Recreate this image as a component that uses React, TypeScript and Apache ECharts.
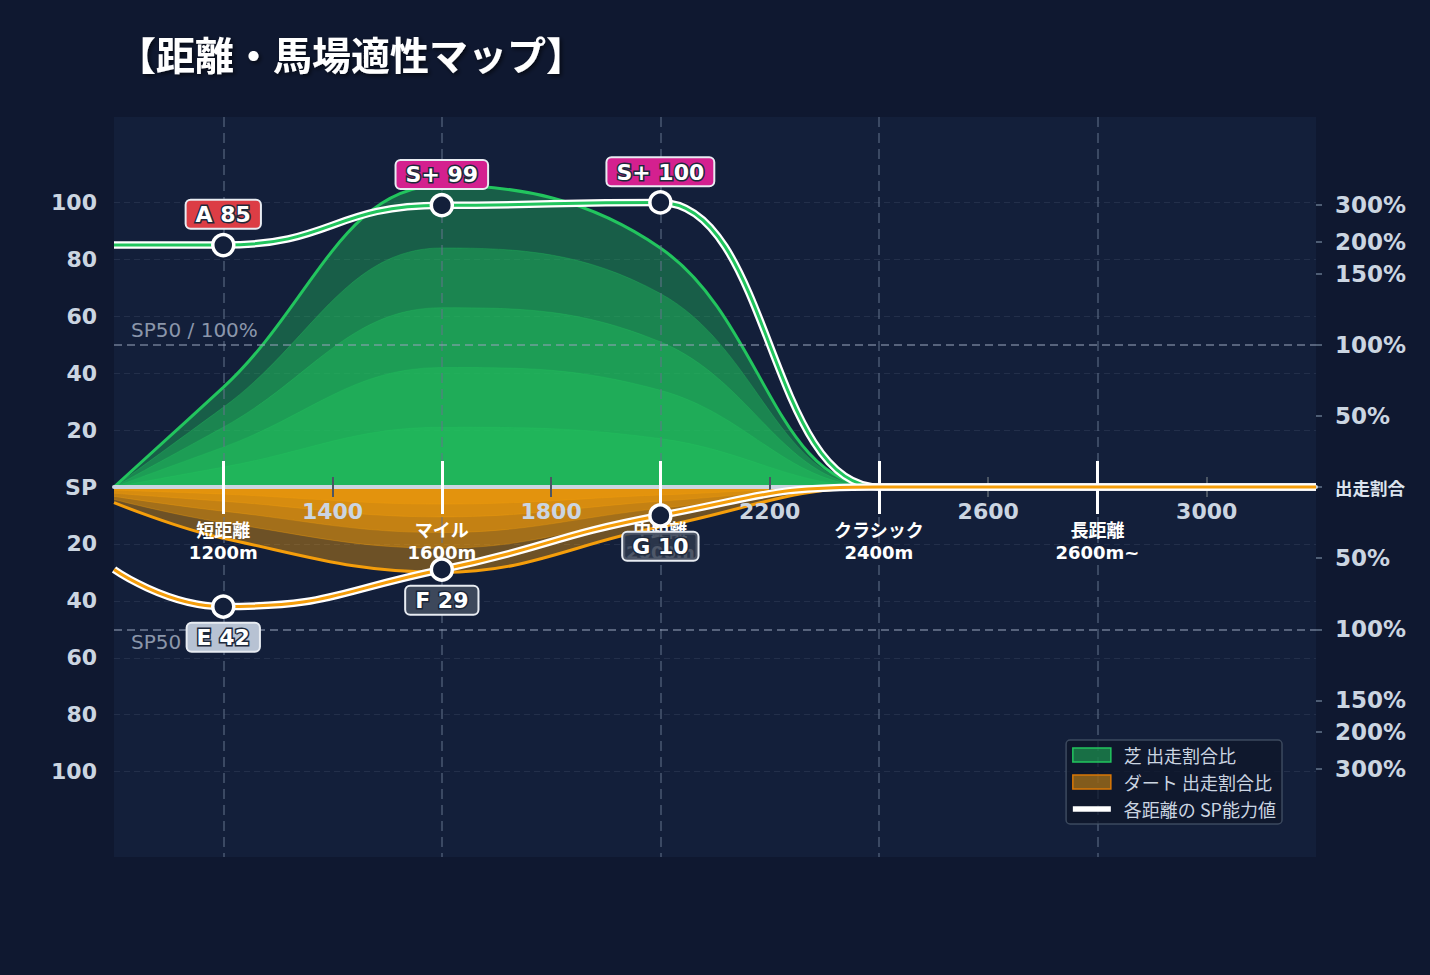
import React, { useEffect, useRef } from 'react';
import * as echarts from 'echarts';

const FONT = "'DejaVu Sans', 'Noto Sans CJK JP', sans-serif";
const JP_FONT = "'Noto Sans CJK JP', 'DejaVu Sans', sans-serif";

// distance axis (m)
const distances = [1000, 1200, 1600, 2000, 2400, 2800, 3200];
const distanceTicks = [1400, 1800, 2200, 2600, 3000];
const courseMarks = [1200, 1600, 2000, 2400, 2800];
const courseNames = ['短距離\n1200m', 'マイル\n1600m', '中距離\n2000m', 'クラシック\n2400m', '長距離\n2600m~'];

// 芝 出走割合比 (inner -> outer layer) per distance
const turfLayers = [
  [0, 7, 21, 17, 0, 0, 0],
  [0, 14, 42, 34, 0, 0, 0],
  [0, 21, 63, 51, 0, 0, 0],
  [0, 28, 84, 68, 0, 0, 0],
  [0, 35, 106, 84, 0, 0, 0],
];

// ダート 出走割合比 (drawn below the axis)
const dirtLayers = [
  [1.1, 2.5, 6, 2.8, 0, 0, 0],
  [2.2, 5, 10.5, 5, 0, 0, 0],
  [3.3, 8.5, 16, 7.5, 0, 0, 0],
  [4.4, 12.5, 21.5, 10, 0, 0, 0],
  [5.5, 18, 30, 14, 0, 0, 0],
];

// SP ability per distance
const turfSP = [85, 85, 99, 100, 0, 0, 0];
const dirtSP = [29, 42, 29, 10, 0, 0, 0];

// graded points
const gradeDistances = [1200, 1600, 2000];
const turfGrades = ['A', 'S+', 'S+'];
const turfGradeSP = [85, 99, 100];
const dirtGrades = ['E', 'F', 'G'];
const dirtGradeSP = [42, 29, 10];

const gradeColors: Record<string, string> = {
  'S+': '#d4208f',
  A: '#dc3d45',
  E: '#b7c2d3',
  F: '#3d485b',
  G: 'rgba(47,58,78,0.85)',
};

// axis ticks
const spTicks = [-100, -80, -60, -40, -20, 0, 20, 40, 60, 80, 100];
const ratioLabels = ['50%', '100%', '150%', '200%', '300%'];
const ratioPositions = [25, 50, 75, 86, 99];

const SP_NAME = '各距離の SP能力値';
const TURF_NAME = '芝 出走割合比';
const DIRT_NAME = 'ダート 出走割合比';

// grid: 117..857 tall, the SP axis sits in the middle
const CENTER_OFFSET = -370;

const areaSeries = (name: string, layers: number[][], sign: number, fill: string, line: string) =>
  layers.map((vals, i) => {
    const outer = i === layers.length - 1;
    return {
      name,
      type: 'line',
      z: 2,
      silent: true,
      smooth: 0.4,
      symbol: 'none',
      showSymbol: false,
      data: distances.map((d, j) => [d, sign * vals[j]]),
      lineStyle: outer ? { color: line, width: 3 } : { color: line, width: 1, opacity: 0.3 },
      areaStyle: { color: fill, opacity: 1 },
      itemStyle: { color: line },
      emphasis: { disabled: true },
    };
  });

const spLine = (vals: number[], sign: number, color: string, monotone: boolean) =>
  ['#ffffff', color].map((c, i) => ({
    name: SP_NAME,
    type: 'line',
    z: 6,
    silent: true,
    smooth: 0.5,
    smoothMonotone: monotone ? 'x' : undefined,
    symbol: 'none',
    showSymbol: false,
    data: distances.map((d, j) => [d, sign * vals[j]]),
    lineStyle: { color: c, width: i === 0 ? 7.5 : 3 },
    itemStyle: { color: c },
    emphasis: { disabled: true },
  }));

const gradePoints = (grades: string[], sps: number[], sign: number, position: string) => ({
  name: SP_NAME,
  type: 'scatter',
  z: 7,
  silent: true,
  symbol: 'circle',
  symbolSize: 21,
  itemStyle: { color: '#131f3a', borderColor: '#ffffff', borderWidth: 3.5, opacity: 1 },
  emphasis: { disabled: true },
  label: {
    show: true,
    position,
    distance: 5,
    formatter: '{b}',
    color: '#ffffff',
    fontSize: 22,
    fontWeight: 'bold',
    fontFamily: FONT,
    textBorderColor: '#1e293b',
    textBorderWidth: 3,
    borderColor: '#e8ecf2',
    borderWidth: 2,
    borderRadius: 4,
    padding: [3, 9, 2, 9],
  },
  data: gradeDistances.map((d, i) => ({
    name: `${grades[i]} ${sps[i]}`,
    value: [d, sign * sps[i]],
    label: { backgroundColor: gradeColors[grades[i]] },
  })),
});

const xBase = {
  type: 'value',
  gridIndex: 0,
  position: 'bottom',
  offset: CENTER_OFFSET,
  min: 1000,
  max: 3200,
  axisLine: { show: false, onZero: false },
  axisTick: { show: false },
  axisLabel: { show: false },
  splitLine: { show: false },
};

const DistanceAptitudeChart: React.FC = () => {
  const ref = useRef<HTMLDivElement>(null);

  useEffect(() => {
    if (!ref.current) return;
    const chart = echarts.init(ref.current, null, { renderer: 'svg' });

    const ratioValues = [...ratioPositions.map((v) => -v).reverse(), 0, ...ratioPositions];

    const option: any = {
      animation: false,
      backgroundColor: '#0f1830',
      title: {
        text: '【距離・馬場適性マップ】',
        left: 112,
        top: 28,
        textStyle: {
          color: '#ffffff',
          fontSize: 39,
          fontWeight: 'bold',
          fontFamily: JP_FONT,
          textShadowColor: 'rgba(0,0,0,0.6)',
          textShadowBlur: 4,
          textShadowOffsetX: 2,
          textShadowOffsetY: 2,
        },
      },
      legend: {
        orient: 'vertical',
        right: 148,
        top: 740,
        itemWidth: 38,
        itemHeight: 14,
        itemGap: 9,
        padding: [6, 6, 6, 6],
        selectedMode: false,
        backgroundColor: 'rgba(15,23,42,0.75)',
        borderColor: 'rgba(71,85,105,0.8)',
        borderWidth: 1.5,
        borderRadius: 4,
        textStyle: { color: '#cbd5e1', fontSize: 18, fontFamily: JP_FONT, padding: [0, 0, 0, 8] },
        data: [
          { name: TURF_NAME, icon: 'rect', itemStyle: { color: 'rgba(34,197,94,0.5)', borderColor: '#22c55e', borderWidth: 1.5 } },
          { name: DIRT_NAME, icon: 'rect', itemStyle: { color: 'rgba(245,158,11,0.5)', borderColor: '#d97706', borderWidth: 1.5 } },
          { name: SP_NAME, icon: 'path://M0,0M0,4h40v6h-40zM40,14', itemStyle: { color: '#ffffff', borderWidth: 0 } },
        ],
      },
      grid: {
        left: 114,
        right: 114,
        top: 117,
        bottom: 118,
        show: true,
        backgroundColor: '#131f3a',
        borderWidth: 0,
        outerBoundsMode: 'none',
      },
      xAxis: [
        // main distance axis: centre line, small ticks (upper half), numbers
        {
          ...xBase,
          z: 3,
          axisLine: { show: true, onZero: false, lineStyle: { color: '#cbd5e1', width: 4 } },
          axisTick: { show: true, inside: true, length: 10, customValues: distanceTicks, lineStyle: { color: '#4b5563', width: 2 } },
          axisLabel: {
            show: true,
            customValues: distanceTicks,
            margin: 13,
            color: '#cbd5e1',
            fontSize: 22,
            fontWeight: 'bold',
            fontFamily: FONT,
            formatter: (v: number) => String(v),
          },
        },
        // small ticks (lower half)
        {
          ...xBase,
          z: 3,
          axisTick: { show: true, inside: false, length: 10, customValues: distanceTicks, lineStyle: { color: '#4b5563', width: 2 } },
        },
        // course marks: dashed verticals + white ticks (upper half)
        {
          ...xBase,
          z: 3,
          axisTick: { show: true, inside: true, length: 26, customValues: courseMarks, lineStyle: { color: '#ffffff', width: 3 } },
          splitLine: { show: true, lineStyle: { color: 'rgba(100,116,139,0.5)', width: 2, type: [10, 6] } },
        },
        // course marks: white ticks (lower half) + names
        {
          ...xBase,
          z: 3,
          axisTick: { show: true, inside: false, length: 27, customValues: courseMarks, lineStyle: { color: '#ffffff', width: 3 } },
          axisLabel: {
            show: true,
            customValues: courseMarks,
            margin: 32,
            color: '#ffffff',
            fontSize: 18,
            lineHeight: 22,
            fontWeight: 'bold',
            fontFamily: FONT,
            formatter: (v: number) => courseNames[courseMarks.indexOf(v)] ?? '',
          },
        },
      ],
      yAxis: [
        {
          type: 'value',
          position: 'left',
          min: -130,
          max: 130,
          axisLine: { show: false },
          axisTick: { show: false, customValues: spTicks },
          axisLabel: {
            customValues: spTicks,
            margin: 17,
            color: '#cbd5e1',
            fontSize: 22,
            fontWeight: 'bold',
            fontFamily: FONT,
            formatter: (v: number) => (v === 0 ? 'SP' : String(Math.abs(v))),
          },
          splitLine: { show: true, lineStyle: { color: 'rgba(100,116,139,0.2)', width: 1, type: [6, 4] } },
        },
        {
          type: 'value',
          position: 'right',
          min: -130,
          max: 130,
          axisLine: { show: false },
          axisTick: { show: true, length: 6, customValues: ratioValues, lineStyle: { color: '#64748b', width: 1.5 } },
          axisLabel: {
            customValues: ratioValues,
            margin: 19,
            color: '#cbd5e1',
            fontSize: 23,
            fontWeight: 'bold',
            fontFamily: FONT,
            formatter: (v: number) =>
              v === 0 ? '{c|出走割合}' : ratioLabels[ratioPositions.indexOf(Math.abs(v))] ?? '',
            rich: {
              c: { fontSize: 17.5, fontWeight: 'bold', color: '#dbe3ee', fontFamily: JP_FONT },
            },
          },
          splitLine: { show: false },
        },
      ],
      series: [
        ...areaSeries(TURF_NAME, turfLayers, 1, 'rgba(34,197,94,0.38)', '#22c55e'),
        ...areaSeries(DIRT_NAME, dirtLayers, -1, 'rgba(245,158,11,0.4)', '#f59e0b'),
        {
          name: TURF_NAME,
          type: 'line',
          data: [],
          silent: true,
          markLine: {
            silent: true,
            symbol: ['none', 'none'],
            lineStyle: { color: 'rgba(148,163,184,0.7)', width: 1.5, type: [8, 5] },
            label: {
              formatter: 'SP50 / 100%',
              position: 'insideStartTop',
              distance: [17, 5],
              color: '#8b96aa',
              fontSize: 20,
              fontFamily: FONT,
            },
            data: [
              { yAxis: 50 },
              { yAxis: -50, label: { position: 'insideStartBottom', distance: [17, 3] } },
            ],
          },
        },
        ...spLine(turfSP, 1, '#22c55e', true),
        ...spLine(dirtSP, -1, '#f59e0b', false),
        gradePoints(turfGrades, turfGradeSP, 1, 'top'),
        gradePoints(dirtGrades, dirtGradeSP, -1, 'bottom'),
      ],
    };

    chart.setOption(option, true);

    const handleResize = () => chart.resize();
    window.addEventListener('resize', handleResize);
    return () => {
      window.removeEventListener('resize', handleResize);
      chart.dispose();
    };
  }, []);

  return (
    <div
      ref={ref}
      style={{ position: 'absolute', left: 0, top: 0, width: '1430px', height: '975px', background: '#0f1830' }}
    />
  );
};

export default function App() {
  return <DistanceAptitudeChart />;
}
